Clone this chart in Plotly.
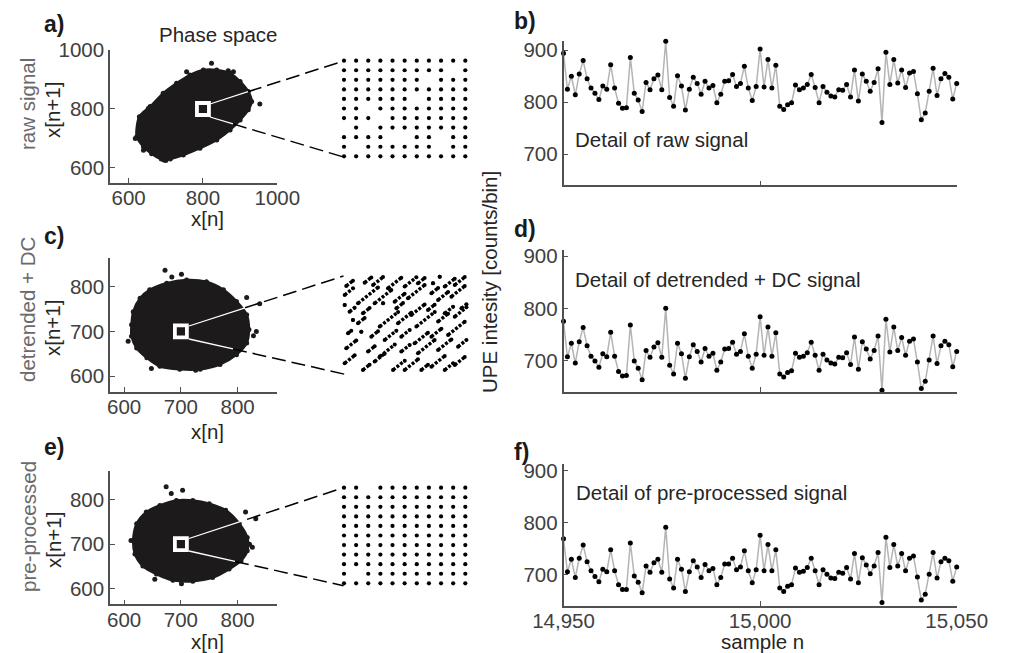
import plotly.graph_objects as go

W, H = 1010, 653
FONT = "Liberation Sans, Arial, sans-serif"

# ---------------- data ----------------
sample_n = list(range(14950, 15051))

raw_signal = [894, 825, 850, 814, 854, 880, 845, 827, 817, 805,
              831, 825, 872, 827, 798, 788, 789, 886, 817, 804,
              782, 838, 824, 845, 852, 824, 917, 809, 792, 851,
              831, 785, 825, 848, 836, 815, 840, 827, 832, 799,
              815, 840, 841, 853, 830, 836, 869, 827, 803, 830,
              902, 829, 882, 827, 871, 792, 786, 795, 799, 833,
              824, 827, 834, 853, 828, 799, 830, 819, 812, 810,
              824, 823, 834, 810, 862, 802, 854, 840, 821, 838,
              864, 761, 896, 834, 882, 837, 862, 828, 856, 859,
              816, 766, 779, 821, 865, 813, 845, 855, 848, 806,
              836]

detrended_signal = [775, 707, 733, 695, 736, 763, 728, 708, 699, 687,
                    713, 707, 754, 708, 679, 670, 671, 768, 699, 685,
                    663, 719, 706, 726, 734, 706, 800, 691, 674, 733,
                    713, 666, 707, 730, 717, 697, 723, 708, 714, 681,
                    697, 722, 723, 735, 712, 717, 751, 708, 685, 712,
                    784, 710, 764, 708, 753, 674, 668, 677, 680, 714,
                    706, 708, 715, 735, 710, 681, 712, 701, 695, 693,
                    706, 705, 715, 692, 745, 683, 736, 722, 703, 719,
                    747, 643, 779, 716, 764, 719, 744, 710, 737, 741,
                    697, 646, 660, 701, 747, 694, 728, 737, 730, 688,
                    717]

preprocessed_signal = [769, 706, 730, 695, 732, 757, 725, 708, 697, 687,
                       711, 706, 748, 708, 681, 672, 672, 761, 698, 686,
                       666, 717, 705, 723, 730, 705, 791, 692, 675, 730,
                       711, 668, 706, 727, 715, 695, 720, 708, 712, 681,
                       695, 721, 721, 732, 710, 715, 746, 708, 685, 710,
                       776, 708, 758, 708, 748, 675, 668, 678, 681, 713,
                       705, 707, 714, 732, 708, 681, 710, 701, 694, 693,
                       705, 703, 714, 692, 741, 685, 733, 719, 702, 717,
                       743, 647, 772, 714, 758, 717, 741, 708, 732, 736,
                       696, 652, 663, 701, 743, 694, 725, 732, 727, 688,
                       715]

# phase-space clouds (outline of the dense point cloud + isolated points)
cloud_a_x = [622, 629, 658, 693, 729, 765, 801, 837, 873, 900, 922, 931, 922, 900, 873, 837, 792, 747, 712, 688, 662, 640]
cloud_a_y = [706, 774, 808, 853, 887, 915, 932, 932, 921, 893, 859, 825, 797, 763, 729, 695, 667, 644, 630, 630, 648, 672]
outl_a_x = [756, 823, 868, 953, 653, 695, 882, 618, 700, 640]
outl_a_y = [926, 955, 930, 817, 802, 627, 926, 700, 625, 660]

cloud_c_x = [613, 616, 628, 645, 675, 710, 745, 775, 798, 816, 820, 816, 798, 769, 734, 698, 663, 640, 622, 613]
cloud_c_y = [715, 744, 774, 793, 808, 815, 811, 793, 767, 737, 704, 674, 648, 626, 615, 615, 622, 641, 663, 689]
outl_c_x = [672, 701, 684, 816, 839, 833, 607, 648, 828, 726]
outl_c_y = [837, 828, 822, 776, 762, 700, 678, 617, 690, 613]

cloud_e_x = [616, 622, 639, 663, 692, 721, 750, 779, 803, 817, 817, 806, 785, 756, 721, 686, 657, 633, 619]
cloud_e_y = [708, 746, 772, 787, 798, 798, 791, 776, 746, 715, 685, 663, 644, 625, 617, 619, 633, 651, 678]
outl_e_x = [674, 703, 683, 814, 832, 826, 654, 701, 821, 612]
outl_e_y = [829, 821, 814, 772, 757, 693, 621, 611, 700, 708]

zoom_center_a = 800
zoom_center_ce = 700

# occupied lattice points in the zoomed windows (rows top -> bottom, 1 = point present)
inset_a_rows = ["11111111111", "11111111101", "11111110111", "11111111111",
                "11111101111", "11011111111", "11101111111", "01011111111",
                "11110011011", "10111111011", "11111111111"]
inset_e_rows = ["11011111111", "11111111111", "11111111111", "11111111111",
                "11111111111", "11111111111", "11111111111", "11111111111",
                "11111111111", "10111111111", "11111111111"]

# diagonal streaks in the detrended zoom window: start point and diagonal extent
streak_x0 = [695.24, 696.73, 697.41, 698.62, 699.97, 701.05, 702.27, 702.81, 703.22, 704.03,
             695.11, 696.19, 697.54, 699.16, 700.24, 702.14, 702.68, 703.76,
             695.11, 695.51, 696.59, 698.22, 699.30, 700.51, 701.86, 703.22, 704.57,
             695.78, 696.19, 697.95, 699.43, 700.92, 702.68, 704.03,
             695.38, 696.46, 697.27, 698.35, 699.70, 700.78, 702.14, 703.49,
             695.24, 697.00, 697.95, 699.70, 701.05, 702.68, 704.30,
             695.11, 696.59, 697.54, 699.03, 699.97, 701.32, 702.14, 703.22, 704.03]
streak_y0 = [703.98, 704.32, 704.08, 703.75, 703.92, 704.25, 704.25, 704.93, 703.92, 704.08,
             703.07, 702.22, 702.22, 702.39, 702.73, 703.24, 702.56, 702.90,
             702.05, 701.37, 701.20, 702.22, 701.71, 701.03, 701.54, 701.20, 701.71,
             700.53, 700.19, 699.85, 700.19, 699.85, 700.36, 700.86,
             699.17, 699.34, 698.83, 698.49, 698.83, 698.15, 698.83, 699.00,
             697.64, 697.31, 696.80, 697.31, 697.14, 697.47, 697.81,
             696.12, 695.44, 696.29, 695.44, 695.44, 695.44, 695.78, 695.44, 695.95]
streak_len = [0.54, 0.54, 0.81, 1.08, 0.95, 0.54, 0.0, 0.0, 0.81, 0.81,
              0.68, 1.62, 1.35, 0.81, 1.35, 0.54, 0.81, 1.08,
              0.0, 0.41, 0.54, 0.0, 0.54, 1.08, 0.54, 0.68, 0.41,
              0.0, 0.54, 1.49, 1.08, 1.49, 0.81, 0.95,
              0.27, 0.0, 0.54, 0.95, 0.68, 1.08, 0.81, 1.35,
              0.81, 0.54, 1.22, 0.68, 1.35, 1.08, 0.68,
              0.81, 0.54, 0.81, 0.95, 1.08, 0.54, 1.08, 0.68, 0.81]

# ---------------- helpers ----------------
def px(x):
    return x / W

def py(y):
    return 1 - y / H

def dom_x(a, b):
    return [px(a), px(b)]

def dom_y(top, bottom):
    return [py(bottom), py(top)]

AX = "#505050"
TICKF = dict(family=FONT, size=20.5, color="#404040")
CLOUD = "#1c1a1b"

def main_axis(domain, rng, tickvals, showlabels=True, fmt=None, standoff=0):
    d = dict(domain=domain, range=rng, showline=True, linecolor=AX, linewidth=1.5,
             ticks="inside", ticklen=5, tickcolor=AX, tickwidth=1.2,
             showgrid=False, zeroline=False, tickvals=tickvals,
             showticklabels=showlabels, tickfont=TICKF, fixedrange=True,
             automargin=False, ticklabelstandoff=standoff)
    if fmt:
        d["tickformat"] = fmt
    return d

def hidden_axis(domain, rng):
    return dict(domain=domain, range=rng, visible=False, showgrid=False,
                zeroline=False, automargin=False)

fig = go.Figure()

# ---------- phase-space clouds ----------
def add_cloud(cx, cy, ox, oy, sq, ax):
    xa, ya = "x" + ax, "y" + ax
    fig.add_trace(go.Scatter(x=cx + [cx[0]], y=cy + [cy[0]], mode="lines", fill="toself",
                             fillcolor=CLOUD, line=dict(color=CLOUD, width=2.5, shape="spline",
                                                        smoothing=0.8),
                             xaxis=xa, yaxis=ya, hoverinfo="skip", showlegend=False))
    fig.add_trace(go.Scatter(x=cx + ox, y=cy + oy, mode="markers",
                             marker=dict(color=CLOUD, size=5),
                             xaxis=xa, yaxis=ya, showlegend=False))
    fig.add_trace(go.Scatter(x=[sq], y=[sq], mode="markers",
                             marker=dict(symbol="square-open", size=12, color="white",
                                         line=dict(color="white", width=3.8)),
                             xaxis=xa, yaxis=ya, showlegend=False, cliponaxis=False))

add_cloud(cloud_a_x, cloud_a_y, outl_a_x, outl_a_y, zoom_center_a, "")
add_cloud(cloud_c_x, cloud_c_y, outl_c_x, outl_c_y, zoom_center_ce, "3")
add_cloud(cloud_e_x, cloud_e_y, outl_e_x, outl_e_y, zoom_center_ce, "5")

# ---------- lattice insets ----------
def add_lattice(rows, center, ax):
    xs, ys = [], []
    for i, row in enumerate(rows):
        for j, ch in enumerate(row):
            if ch == "1":
                xs.append(center - 5 + j)
                ys.append(center + 5 - i)
    fig.add_trace(go.Scatter(x=xs, y=ys, mode="markers",
                             marker=dict(color="black", size=4.2),
                             xaxis="x" + ax, yaxis="y" + ax, cliponaxis=False,
                             showlegend=False))

add_lattice(inset_a_rows, zoom_center_a, "2")
add_lattice(inset_e_rows, zoom_center_ce, "6")

# ---------- streak inset ----------
sx, sy, dx, dy = [], [], [], []
for x0, y0, L in zip(streak_x0, streak_y0, streak_len):
    if L > 0:
        sx += [x0, x0 + L, None]
        sy += [y0, y0 + L, None]
    dx += [x0, x0 + L]
    dy += [y0, y0 + L]
fig.add_trace(go.Scatter(x=sx, y=sy, mode="lines",
                         line=dict(color="black", width=3.4, dash="3px,1.6px"),
                         xaxis="x4", yaxis="y4", showlegend=False, connectgaps=False))
fig.add_trace(go.Scatter(x=dx, y=dy, mode="markers",
                         marker=dict(color="black", size=4),
                         xaxis="x4", yaxis="y4", cliponaxis=False, showlegend=False))

# ---------- time series ----------
for sig, ax in [(raw_signal, "7"), (detrended_signal, "8"), (preprocessed_signal, "9")]:
    fig.add_trace(go.Scatter(x=sample_n, y=sig, mode="lines+markers",
                             line=dict(color="#b4b4b4", width=1.5),
                             marker=dict(color="black", size=5),
                             xaxis="x" + ax, yaxis="y" + ax, cliponaxis=False,
                             showlegend=False))

# ---------- axes ----------
LX = dom_x(110, 277.3)
RX = dom_x(563.5, 956.7)
ts_x = [14950, 15000, 15050]
ts_y = [700, 800, 900]
lay = dict(
    xaxis=main_axis(LX, [550, 1000], [600, 800, 1000], standoff=-4),
    yaxis=main_axis(dom_y(50, 182.7), [550, 1000], [600, 800, 1000]),
    xaxis2=hidden_axis(dom_x(344, 465.3), [795, 805]),
    yaxis2=hidden_axis(dom_y(60.7, 156.3), [795, 805]),
    xaxis3=main_axis(LX, [575, 870], [600, 700, 800], standoff=-4),
    yaxis3=main_axis(dom_y(257.7, 391.7), [565, 865], [600, 700, 800]),
    xaxis4=hidden_axis(dom_x(343.3, 466.7), [695, 705]),
    yaxis4=hidden_axis(dom_y(276, 374.3), [695, 705]),
    xaxis5=main_axis(LX, [575, 870], [600, 700, 800], standoff=-4),
    yaxis5=main_axis(dom_y(470.7, 604.3), [565, 865], [600, 700, 800]),
    xaxis6=hidden_axis(dom_x(344, 465.3), [695, 705]),
    yaxis6=hidden_axis(dom_y(487.7, 583.3), [695, 705]),
    xaxis7=main_axis(RX, [14950, 15050], ts_x, showlabels=False),
    yaxis7=main_axis(dom_y(40.8, 185.3), [640, 918], ts_y),
    xaxis8=main_axis(RX, [14950, 15050], ts_x, showlabels=False),
    yaxis8=main_axis(dom_y(250, 391.7), [640, 912], ts_y),
    xaxis9=main_axis(RX, [14950, 15050], ts_x, fmt=",d", standoff=-5),
    yaxis9=main_axis(dom_y(464.2, 606.2), [640, 912], ts_y),
)
for i in ["", "2", "3", "4", "5", "6", "7", "8", "9"]:
    lay["xaxis" + i]["anchor"] = "y" + i
    lay["yaxis" + i]["anchor"] = "x" + i

# ---------- connector lines (zoom square -> inset) ----------
shapes = []
connectors = [
    # (square corner, cloud edge, inset corner)
    ((210, 104), (248, 91.7), (343.5, 61)),
    ((210, 117), (233, 123.9), (343.5, 157)),
    ((189, 326), (245, 307.8), (343.5, 276)),
    ((189, 339), (233, 348.9), (345, 374.3)),
    ((189, 538.5), (247, 519.4), (343.5, 487.7)),
    ((189, 551), (235, 561.4), (343.5, 585.7)),
]
for s, m, e in connectors:
    shapes.append(dict(type="line", xref="paper", yref="paper",
                       x0=px(m[0]), y0=py(m[1]), x1=px(e[0]), y1=py(e[1]),
                       line=dict(color="black", width=1.5, dash="14px,6px"), layer="above"))
    shapes.append(dict(type="line", xref="paper", yref="paper",
                       x0=px(s[0]), y0=py(s[1]), x1=px(m[0]), y1=py(m[1]),
                       line=dict(color="white", width=1.3), layer="above"))

# ---------- text ----------
ann = []
def text(t, x, y, size=20.5, color="#262626", bold=False, angle=0, xanchor="center"):
    ann.append(dict(text=("<b>%s</b>" % t) if bold else t, x=px(x), y=py(y),
                    xref="paper", yref="paper", showarrow=False, textangle=angle,
                    xanchor=xanchor, yanchor="middle",
                    font=dict(family=FONT, size=size, color=color)))

for lab, x, y in [("a)", 42, 24), ("b)", 512, 21), ("c)", 42, 236),
                  ("d)", 512, 229), ("e)", 42, 447), ("f)", 512, 452)]:
    text(lab, x, y, size=23, color="#1a1a1a", bold=True, xanchor="left")

text("Phase space", 218, 34)
text("raw signal", 27, 104, color="#6a6a6a", angle=-90)
text("x[n+1]", 53, 110, angle=-90)
text("detrended + DC", 28, 310, color="#6a6a6a", angle=-90)
text("x[n+1]", 53, 328, angle=-90)
text("pre-processed", 28, 527, color="#6a6a6a", angle=-90)
text("x[n+1]", 53, 540, angle=-90)
text("x[n]", 207, 218)
text("x[n]", 207, 431)
text("x[n]", 207, 641)

text("Detail of raw signal", 573, 140, xanchor="left")
text("Detail of detrended + DC signal", 573, 279, xanchor="left")
text("Detail of pre-processed signal", 574, 492, xanchor="left")
text("UPE intesity [counts/bin]", 490, 282, angle=-90)
text("sample n", 762, 641)

fig.update_layout(**lay)
fig.update_layout(template="none", width=W, height=H,
                  margin=dict(l=0, r=0, t=0, b=0, pad=0, autoexpand=False),
                  paper_bgcolor="white", plot_bgcolor="white",
                  showlegend=False, shapes=shapes, annotations=ann,
                  font=dict(family=FONT))
fig.write_html("out.html", config=dict(displayModeBar=False),
               post_script="document.body.style.margin='0px';")
